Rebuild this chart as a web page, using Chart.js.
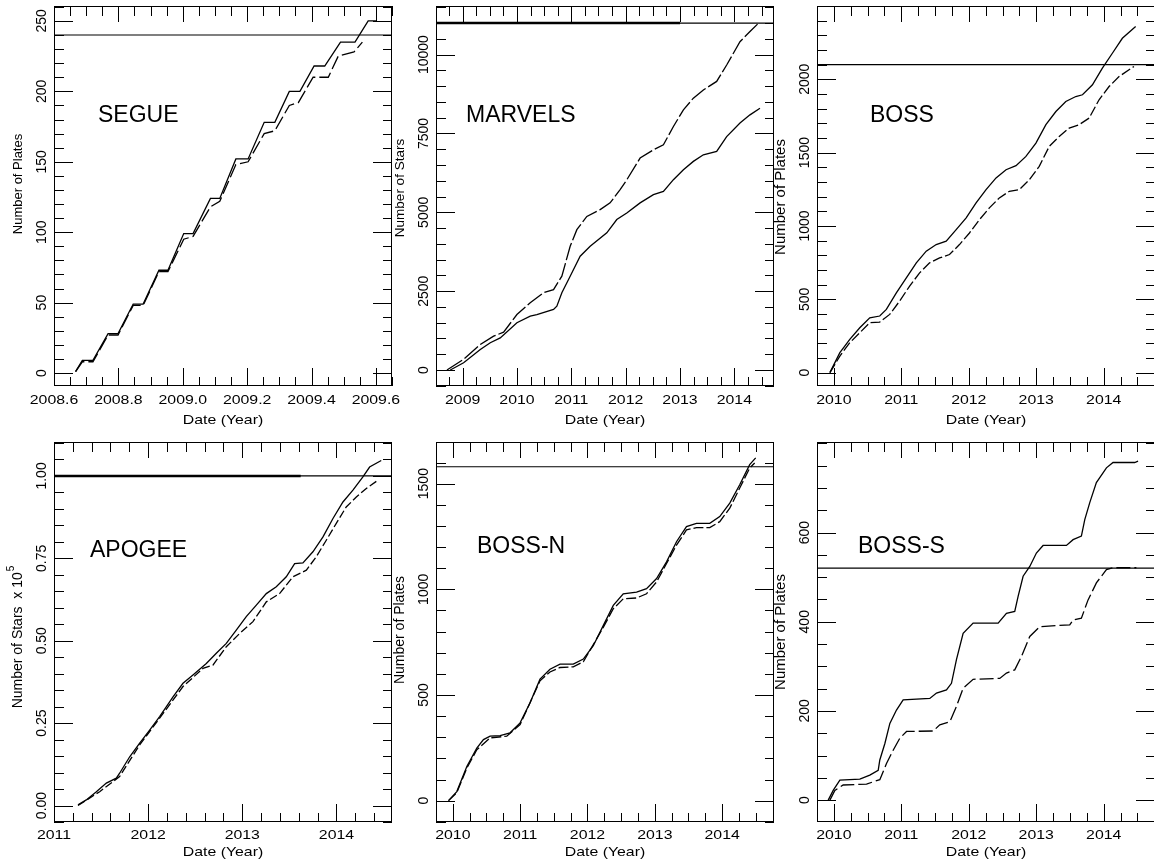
<!DOCTYPE html>
<html>
<head>
<meta charset="utf-8">
<script src="https://cdn.jsdelivr.net/npm/chart.js@4.4.1/dist/chart.umd.min.js"></script>
<style>
  html, body { margin: 0; padding: 0; background: #fff; }
  body { width: 1154px; height: 867px; position: relative; overflow: hidden; }
  canvas { position: absolute; }
</style>
</head>
<body>
<canvas id="segue"   width="400" height="432" style="left:0px;top:0px"></canvas>
<canvas id="marvels" width="400" height="432" style="left:380px;top:0px"></canvas>
<canvas id="boss"    width="400" height="432" style="left:760px;top:0px"></canvas>
<canvas id="apogee"  width="400" height="435" style="left:0px;top:432px"></canvas>
<canvas id="bossN"   width="400" height="435" style="left:380px;top:432px"></canvas>
<canvas id="bossS"   width="400" height="435" style="left:760px;top:432px"></canvas>
<script>
// ---- SEGUE (plates) ----
const segueXTicks = ['2008.6', '2008.8', '2009.0', '2009.2', '2009.4', '2009.6'];
const segueYTicks = ['0', '50', '100', '150', '200', '250'];
const segueGoal = 240;
const segueDatesA = [2008.667, 2008.688, 2008.721, 2008.768, 2008.799, 2008.846, 2008.877, 2008.926, 2008.954, 2009.003, 2009.032, 2009.086, 2009.115, 2009.165, 2009.203, 2009.253, 2009.286, 2009.331, 2009.364, 2009.408, 2009.441, 2009.490, 2009.535, 2009.576, 2009.602];
const seguePlatesA = [1, 9, 9, 28, 28, 49, 49, 73, 73, 99, 99, 124, 124, 152, 152, 178, 178, 200, 200, 218, 218, 235, 235, 250, 250];
const segueDatesB = [2008.667, 2008.688, 2008.721, 2008.768, 2008.799, 2008.846, 2008.877, 2008.926, 2008.954, 2009.003, 2009.032, 2009.086, 2009.115, 2009.165, 2009.203, 2009.253, 2009.286, 2009.331, 2009.359, 2009.405, 2009.452, 2009.483, 2009.532, 2009.558];
const seguePlatesB = [1, 8, 8, 27, 27, 48, 48, 72, 72, 95, 97, 118, 122, 148, 150, 170, 172, 190, 192, 210, 210, 225, 228, 235];

// ---- MARVELS (stars) ----
const marvelsXTicks = ['2009', '2010', '2011', '2012', '2013', '2014'];
const marvelsYTicks = ['0', '2500', '5000', '7500', '10000'];
const marvelsGoal = 11000;
const marvelsGoalBoldEnd = 2013.0;
const marvelsDatesA = [2008.712, 2009.018, 2009.325, 2009.570, 2009.754, 2009.999, 2010.244, 2010.489, 2010.673, 2010.826, 2010.979, 2011.102, 2011.286, 2011.531, 2011.714, 2011.898, 2012.021, 2012.266, 2012.511, 2012.695, 2012.879, 2013.063, 2013.246, 2013.430, 2013.675, 2013.859, 2014.104, 2014.288, 2014.441];
const marvelsStarsA = [0, 340, 810, 1075, 1200, 1760, 2130, 2450, 2550, 2975, 3925, 4450, 4870, 5085, 5300, 5720, 6030, 6720, 6980, 7140, 7720, 8250, 8620, 8880, 9150, 9670, 10410, 10730, 10990];
const marvelsDatesB = [2008.773, 2009.018, 2009.325, 2009.509, 2009.692, 2009.999, 2010.244, 2010.366, 2010.673, 2010.734, 2010.826, 2010.979, 2011.163, 2011.347, 2011.653, 2011.837, 2012.021, 2012.266, 2012.511, 2012.695, 2012.879, 2013.063, 2013.246, 2013.430, 2013.675, 2013.859, 2014.104, 2014.288, 2014.472];
const marvelsStarsB = [0, 230, 650, 865, 1020, 1500, 1710, 1760, 1920, 2025, 2450, 2975, 3610, 3925, 4350, 4770, 4980, 5300, 5560, 5665, 6035, 6350, 6615, 6825, 6930, 7400, 7830, 8090, 8300];

// ---- BOSS (plates) ----
const bossXTicks = ['2010', '2011', '2012', '2013', '2014'];
const bossYTicks = ['0', '500', '1000', '1500', '2000'];
const bossGoal = 2100;
const bossDatesA = [2009.941, 2010.089, 2010.236, 2010.384, 2010.532, 2010.680, 2010.778, 2010.926, 2011.074, 2011.222, 2011.369, 2011.517, 2011.665, 2011.813, 2011.961, 2012.108, 2012.256, 2012.404, 2012.552, 2012.700, 2012.847, 2012.995, 2013.143, 2013.291, 2013.438, 2013.586, 2013.685, 2013.833, 2013.980, 2014.128, 2014.276, 2014.473];
const bossPlatesA = [0, 136, 227, 306, 374, 386, 431, 544, 646, 748, 828, 873, 896, 975, 1055, 1157, 1247, 1327, 1383, 1411, 1474, 1565, 1690, 1780, 1848, 1882, 1894, 1962, 2075, 2177, 2279, 2359];
const bossDatesB = [2009.941, 2010.089, 2010.236, 2010.384, 2010.532, 2010.680, 2010.828, 2010.975, 2011.123, 2011.271, 2011.419, 2011.567, 2011.714, 2011.862, 2012.010, 2012.158, 2012.305, 2012.453, 2012.601, 2012.749, 2012.897, 2013.044, 2013.192, 2013.340, 2013.488, 2013.635, 2013.783, 2013.931, 2014.079, 2014.227, 2014.448];
const bossPlatesB = [0, 113, 204, 272, 340, 345, 397, 488, 590, 680, 748, 782, 805, 873, 952, 1043, 1123, 1191, 1236, 1247, 1315, 1406, 1542, 1610, 1667, 1690, 1735, 1860, 1950, 2018, 2087];

// ---- APOGEE (stars x 10^5) ----
const apogeeXTicks = ['2011', '2012', '2013', '2014'];
const apogeeYTicks = ['0.00', '0.25', '0.50', '0.75', '1.00'];
const apogeeGoal = 1.0;
const apogeeGoalBoldEnd = 2013.62;
const apogeeDatesA = [2011.255, 2011.343, 2011.450, 2011.556, 2011.662, 2011.697, 2011.804, 2011.910, 2012.016, 2012.122, 2012.264, 2012.370, 2012.476, 2012.618, 2012.724, 2012.830, 2012.936, 2013.042, 2013.149, 2013.255, 2013.361, 2013.467, 2013.556, 2013.644, 2013.750, 2013.857, 2013.963, 2014.069, 2014.175, 2014.281, 2014.352, 2014.476];
const apogeeStarsA = [0.002, 0.017, 0.042, 0.068, 0.083, 0.098, 0.148, 0.189, 0.229, 0.270, 0.330, 0.371, 0.396, 0.431, 0.462, 0.492, 0.532, 0.573, 0.608, 0.643, 0.664, 0.694, 0.734, 0.736, 0.770, 0.815, 0.871, 0.921, 0.957, 0.997, 1.027, 1.047];
const apogeeDatesB = [2011.255, 2011.485, 2011.697, 2011.910, 2012.122, 2012.370, 2012.582, 2012.688, 2012.830, 2012.972, 2013.113, 2013.255, 2013.396, 2013.538, 2013.680, 2013.786, 2013.892, 2013.998, 2014.104, 2014.211, 2014.317, 2014.441];
const apogeeStarsB = [0, 0.042, 0.088, 0.184, 0.265, 0.361, 0.416, 0.426, 0.482, 0.522, 0.558, 0.618, 0.643, 0.694, 0.714, 0.755, 0.805, 0.856, 0.906, 0.936, 0.962, 0.987];

// ---- BOSS-N (plates) ----
const bossNXTicks = ['2010', '2011', '2012', '2013', '2014'];
const bossNYTicks = ['0', '500', '1000', '1500'];
const bossNGoal = 1580;
const bossNDatesA = [2009.936, 2010.059, 2010.208, 2010.356, 2010.455, 2010.554, 2010.702, 2010.850, 2010.999, 2011.147, 2011.295, 2011.443, 2011.592, 2011.789, 2011.938, 2012.086, 2012.234, 2012.383, 2012.531, 2012.729, 2012.877, 2013.026, 2013.174, 2013.322, 2013.470, 2013.618, 2013.816, 2013.964, 2014.113, 2014.261, 2014.409, 2014.498];
const bossNPlatesA = [0, 43, 162, 249, 289, 305, 308, 321, 368, 463, 575, 622, 646, 646, 670, 733, 828, 924, 979, 987, 1003, 1051, 1130, 1225, 1297, 1312, 1312, 1344, 1408, 1495, 1590, 1622];
const bossNDatesB = [2009.936, 2010.059, 2010.208, 2010.356, 2010.554, 2010.801, 2010.999, 2011.295, 2011.443, 2011.592, 2011.789, 2011.938, 2012.234, 2012.383, 2012.531, 2012.729, 2012.877, 2013.026, 2013.322, 2013.470, 2013.618, 2013.816, 2013.964, 2014.113, 2014.261, 2014.409, 2014.483];
const bossNPlatesB = [0, 38, 154, 241, 297, 305, 360, 567, 609, 630, 633, 657, 820, 908, 955, 959, 979, 1035, 1209, 1281, 1292, 1292, 1320, 1384, 1479, 1574, 1598];

// ---- BOSS-S (plates) ----
const bossSXTicks = ['2010', '2011', '2012', '2013', '2014'];
const bossSYTicks = ['0', '200', '400', '600'];
const bossSGoal = 520;
const bossSDatesA = [2009.916, 2009.990, 2010.089, 2010.385, 2010.533, 2010.657, 2010.681, 2010.756, 2010.830, 2010.928, 2011.027, 2011.422, 2011.521, 2011.669, 2011.743, 2011.817, 2011.916, 2012.064, 2012.435, 2012.558, 2012.681, 2012.731, 2012.805, 2012.904, 2013.002, 2013.101, 2013.447, 2013.546, 2013.669, 2013.719, 2013.793, 2013.891, 2014.040, 2014.138, 2014.459, 2014.509];
const bossSPlatesA = [0, 22, 45, 47, 56, 67, 90, 127, 172, 202, 225, 228, 240, 247, 262, 315, 374, 397, 397, 419, 423, 457, 502, 524, 554, 571, 571, 584, 592, 629, 667, 712, 745, 757, 757, 760];
const bossSDatesB = [2009.941, 2010.015, 2010.138, 2010.484, 2010.681, 2010.780, 2010.879, 2010.978, 2011.077, 2011.472, 2011.570, 2011.719, 2011.817, 2011.916, 2012.064, 2012.459, 2012.558, 2012.681, 2012.780, 2012.904, 2013.052, 2013.496, 2013.546, 2013.669, 2013.768, 2013.891, 2014.040, 2014.138, 2014.484];
const bossSPlatesB = [0, 22, 34, 36, 46, 82, 112, 139, 154, 155, 169, 176, 210, 251, 271, 273, 285, 292, 322, 367, 389, 393, 404, 408, 449, 487, 517, 521, 521];

const FONT = '"Liberation Sans", Arimo, Arial, sans-serif';

function toPoints(xs, ys) {
    return xs.map((x, i) => ({ x: x, y: ys[i] }));
}

function tickValues(min, max, step) {
    const out = [];
    const k0 = Math.ceil(min / step - 1e-6);
    const k1 = Math.floor(max / step + 1e-6);
    for (let k = k0; k <= k1; k++) out.push(+(k * step).toFixed(6));
    return out;
}

function stretchText(ctx, text, x, y, sx) {
    ctx.save();
    ctx.translate(x, y);
    ctx.scale(sx, 1);
    ctx.fillText(text, 0, 0);
    ctx.restore();
}

// frame, inward ticks on all four sides, labels and panel name
const sdssAxes = {
    id: 'sdssAxes',
    afterDraw(chart) {
        const cfg = chart.options.plugins.sdssAxes;
        const { ctx, chartArea: a } = chart;
        const xs = chart.scales.x, ys = chart.scales.y;
        const L = a.left, R = a.right, T = a.top, B = a.bottom;

        ctx.save();
        ctx.strokeStyle = '#000';
        ctx.fillStyle = '#000';
        ctx.lineWidth = 1;
        ctx.strokeRect(L + 0.5, T + 0.5, R - L - 1, B - T - 1);

        const xMajor = cfg.xTicks.map(Number);
        const yMajor = cfg.yTicks.map(Number);
        const isMajor = (v, list, step) => list.some(m => Math.abs(m - v) < step * 0.01);

        ctx.beginPath();
        tickValues(xs.min, xs.max, cfg.xMinor).forEach(v => {
            const px = Math.round(xs.getPixelForValue(v)) + 0.5;
            const major = isMajor(v, xMajor, cfg.xMinor);
            ctx.moveTo(px, B); ctx.lineTo(px, B - (major ? 18 : 9));
            ctx.moveTo(px, T); ctx.lineTo(px, T + (major ? 16 : 10));
        });
        tickValues(ys.min, ys.max, cfg.yMinor).forEach(v => {
            const py = Math.round(ys.getPixelForValue(v)) + 0.5;
            const major = isMajor(v, yMajor, cfg.yMinor);
            ctx.moveTo(L, py); ctx.lineTo(L + (major ? 19 : 10), py);
            ctx.moveTo(R, py); ctx.lineTo(R - (major ? 19 : 9), py);
        });
        ctx.stroke();

        // x tick labels and title (horizontally stretched, like the original plot)
        ctx.font = '13px ' + FONT;
        ctx.textAlign = 'center';
        ctx.textBaseline = 'middle';
        cfg.xTicks.forEach(t => {
            stretchText(ctx, t, xs.getPixelForValue(Number(t)), B + cfg.tickGap, 1.22);
        });
        stretchText(ctx, 'Date (Year)', (L + R) / 2, B + cfg.titleGap, 1.22);

        // y tick labels, rotated
        ctx.font = '14px ' + FONT;
        cfg.yTicks.forEach(t => {
            ctx.save();
            ctx.translate(L - 12, ys.getPixelForValue(Number(t)));
            ctx.rotate(-Math.PI / 2);
            ctx.fillText(t, 0, 0);
            ctx.restore();
        });

        // y title
        ctx.save();
        ctx.translate(L - 36, (T + B) / 2 + cfg.yTitleShift);
        ctx.rotate(-Math.PI / 2);
        ctx.font = cfg.yTitleSize + 'px ' + FONT;
        if (cfg.yTitleSup) {
            const w1 = ctx.measureText(cfg.yTitle).width;
            ctx.font = '10px ' + FONT;
            const w2 = ctx.measureText(cfg.yTitleSup).width;
            const x0 = -(w1 + w2 + 1) / 2;
            ctx.textAlign = 'left';
            ctx.font = cfg.yTitleSize + 'px ' + FONT;
            ctx.fillText(cfg.yTitle, x0, 0);
            ctx.font = '10px ' + FONT;
            ctx.fillText(cfg.yTitleSup, x0 + w1 + 1, -7);
        } else {
            ctx.fillText(cfg.yTitle, 0, 0);
        }
        ctx.restore();

        // panel name
        ctx.font = '23px ' + FONT;
        ctx.textAlign = 'left';
        ctx.textBaseline = 'alphabetic';
        ctx.fillText(cfg.name, L + cfg.nameX, T + cfg.nameY);
        ctx.restore();
    }
};

function line(points, dash, width) {
    return {
        data: points,
        borderColor: '#000',
        borderWidth: width || 1.3,
        borderDash: dash || [],
        pointRadius: 0,
        tension: 0,
        fill: false
    };
}

function makePanel(id, p) {
    const datasets = [
        line(toPoints(p.datesA, p.valuesA), p.dashA),
        line(toPoints(p.datesB, p.valuesB), p.dashB),
        line([{ x: p.xMin, y: p.goal }, { x: p.xMax, y: p.goal }], null, 1.2)
    ];
    if (p.boldEnd) {
        datasets.push(line([{ x: p.xMin, y: p.goal }, { x: p.boldEnd, y: p.goal }], null, 2.6));
    }
    return new Chart(document.getElementById(id), {
        type: 'line',
        data: { datasets: datasets },
        options: {
            responsive: false,
            animation: false,
            events: [],
            layout: { padding: p.pad },
            plugins: {
                legend: { display: false },
                tooltip: { enabled: false },
                sdssAxes: {
                    name: p.name, xTicks: p.xTicks, yTicks: p.yTicks,
                    xMinor: p.xMinor, yMinor: p.yMinor,
                    yTitle: p.yTitle, yTitleSup: p.yTitleSup, yTitleSize: p.yTitleSize, yTitleShift: p.yTitleShift,
                    nameX: p.nameX, nameY: p.nameY, tickGap: p.tickGap, titleGap: p.titleGap
                }
            },
            scales: {
                x: { type: 'linear', min: p.xMin, max: p.xMax, display: false },
                y: { type: 'linear', min: p.yMin, max: p.yMax, display: false }
            }
        },
        plugins: [sdssAxes]
    });
}

makePanel('segue', {
    name: 'SEGUE', xTicks: segueXTicks, yTicks: segueYTicks, goal: segueGoal,
    datesA: segueDatesA, valuesA: seguePlatesA, datesB: segueDatesB, valuesB: seguePlatesB,
    dashA: [], dashB: [14, 4],
    xMin: 2008.6, xMax: 2009.65, yMin: -9.2, yMax: 260.6, xMinor: 0.05, yMinor: 10,
    yTitle: 'Number of Plates', yTitleSize: 13, yTitleShift: -12,
    pad: { left: 54, top: 6, right: 8, bottom: 46 },
    nameX: 44, nameY: 116, tickGap: 14, titleGap: 34
});
makePanel('marvels', {
    name: 'MARVELS', xTicks: marvelsXTicks, yTicks: marvelsYTicks, goal: marvelsGoal, boldEnd: marvelsGoalBoldEnd,
    datesA: marvelsDatesA, valuesA: marvelsStarsA, datesB: marvelsDatesB, valuesB: marvelsStarsB,
    dashA: [18, 3], dashB: [],
    xMin: 2008.51, xMax: 2014.73, yMin: -506, yMax: 11541, xMinor: 0.25, yMinor: 500,
    yTitle: 'Number of Stars', yTitleSize: 13.5, yTitleShift: -8,
    pad: { left: 56, top: 6, right: 6, bottom: 46 },
    nameX: 30, nameY: 116, tickGap: 14, titleGap: 34
});
makePanel('boss', {
    name: 'BOSS', xTicks: bossXTicks, yTicks: bossYTicks, goal: bossGoal,
    datesA: bossDatesA, valuesA: bossPlatesA, datesB: bossDatesB, valuesB: bossPlatesB,
    dashA: [], dashB: [10, 3],
    xMin: 2009.75, xMax: 2014.76, yMin: -91, yMax: 2499, xMinor: 0.25, yMinor: 100,
    yTitle: 'Number of Plates', yTitleSize: 15, yTitleShift: 1,
    pad: { left: 57, top: 6, right: 5, bottom: 46 },
    nameX: 53, nameY: 116, tickGap: 14, titleGap: 34
});
makePanel('apogee', {
    name: 'APOGEE', xTicks: apogeeXTicks, yTicks: apogeeYTicks, goal: apogeeGoal, boldEnd: apogeeGoalBoldEnd,
    datesA: apogeeDatesA, valuesA: apogeeStarsA, datesB: apogeeDatesB, valuesB: apogeeStarsB,
    dashA: [], dashB: [8, 3],
    xMin: 2011.0, xMax: 2014.59, yMin: -0.05, yMax: 1.103, xMinor: 0.2, yMinor: 0.05,
    yTitle: 'Number of Stars  x 10', yTitleSup: '5', yTitleSize: 14, yTitleShift: 5,
    pad: { left: 54, top: 10, right: 8, bottom: 45 },
    nameX: 36, nameY: 115, tickGap: 13, titleGap: 30
});
makePanel('bossN', {
    name: 'BOSS-N', xTicks: bossNXTicks, yTicks: bossNYTicks, goal: bossNGoal,
    datesA: bossNDatesA, valuesA: bossNPlatesA, datesB: bossNDatesB, valuesB: bossNPlatesB,
    dashA: [], dashB: [10, 3],
    xMin: 2009.75, xMax: 2014.77, yMin: -101, yMax: 1697, xMinor: 0.25, yMinor: 100,
    yTitle: 'Number of Plates', yTitleSize: 14, yTitleShift: -2,
    pad: { left: 56, top: 10, right: 6, bottom: 45 },
    nameX: 41, nameY: 111, tickGap: 13, titleGap: 30
});
makePanel('bossS', {
    name: 'BOSS-S', xTicks: bossSXTicks, yTicks: bossSYTicks, goal: bossSGoal,
    datesA: bossSDatesA, valuesA: bossSPlatesA, datesB: bossSDatesB, valuesB: bossSPlatesB,
    dashA: [], dashB: [14, 4],
    xMin: 2009.75, xMax: 2014.76, yMin: -49, yMax: 803, xMinor: 0.25, yMinor: 50,
    yTitle: 'Number of Plates', yTitleSize: 15, yTitleShift: 0,
    pad: { left: 57, top: 10, right: 5, bottom: 45 },
    nameX: 41, nameY: 111, tickGap: 13, titleGap: 30
});
</script>
</body>
</html>
